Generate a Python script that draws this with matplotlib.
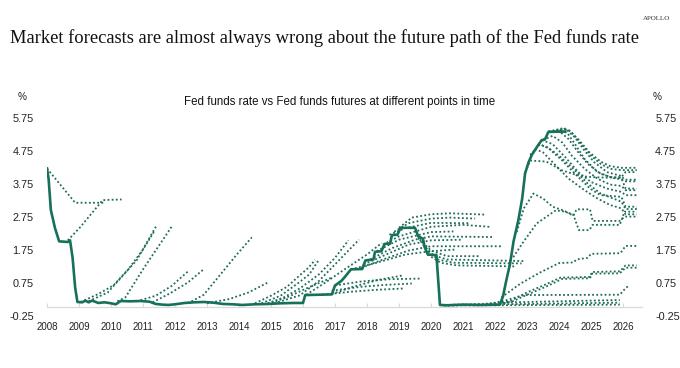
import matplotlib
matplotlib.use("Agg")
import matplotlib.pyplot as plt

# ---------------- data ----------------
# Effective Fed funds rate (%)
ffr_year = [2008.0, 2008.05, 2008.12, 2008.25, 2008.38, 2008.65, 2008.72, 2008.8, 2008.88, 2008.95,
            2009.1, 2009.2, 2009.3, 2009.4, 2009.5, 2009.6, 2009.8, 2010.0, 2010.15, 2010.3,
            2010.6, 2010.9, 2011.2, 2011.4, 2011.6, 2011.8, 2012.0, 2012.3, 2012.6, 2012.9,
            2013.2, 2013.5, 2013.8, 2014.1, 2014.5, 2014.9, 2015.3, 2015.7, 2016.0, 2016.07,
            2016.9, 2017.0, 2017.2, 2017.3, 2017.5, 2017.85, 2017.95, 2018.2, 2018.25, 2018.45,
            2018.55, 2018.72, 2018.78, 2018.95, 2019.05, 2019.5, 2019.6, 2019.75, 2019.8, 2019.9,
            2020.17, 2020.28, 2020.5, 2021.0, 2021.5, 2022.15, 2022.25, 2022.35, 2022.47, 2022.58,
            2022.73, 2022.85, 2022.94, 2023.05, 2023.15, 2023.35, 2023.46, 2023.56, 2023.67, 2024.19]
ffr_value = [4.21, 3.9, 2.95, 2.4, 2.0, 1.98, 2.03, 1.5, 0.6, 0.16,
             0.15, 0.2, 0.15, 0.2, 0.17, 0.13, 0.15, 0.12, 0.09, 0.19,
             0.18, 0.19, 0.17, 0.1, 0.08, 0.07, 0.09, 0.13, 0.15, 0.16,
             0.14, 0.1, 0.09, 0.07, 0.09, 0.1, 0.12, 0.13, 0.13, 0.37,
             0.39, 0.66, 0.8, 0.91, 1.15, 1.16, 1.42, 1.45, 1.68, 1.7,
             1.92, 1.93, 2.19, 2.2, 2.41, 2.41, 2.15, 2.08, 1.83, 1.6,
             1.58, 0.07, 0.06, 0.08, 0.07, 0.08, 0.33, 0.8, 1.32, 2.0,
             2.64, 3.3, 4.06, 4.4, 4.62, 4.92, 5.07, 5.09, 5.32, 5.33]

# Fed funds futures paths at different points in time: (years, values)
futures_2008 = [
    ([2008.0, 2008.88, 2009.82], [4.21, 3.17, 3.17]),
    ([2008.65, 2009.03, 2009.74, 2010.33], [2.03, 2.42, 3.25, 3.27]),
]
futures_2009_2014 = [
    ([2009.05, 2009.6, 2010.07, 2010.8, 2011.43], [0.16, 0.4, 0.66, 1.42, 2.49]),
    ([2009.3, 2009.9, 2010.5, 2011.0, 2011.35], [0.18, 0.45, 1.1, 1.75, 2.3]),
    ([2010.2, 2010.45, 2011.0, 2011.9], [0.18, 0.3, 1.15, 2.45]),
    ([2010.8, 2011.4, 2011.9, 2012.42], [0.18, 0.35, 0.65, 1.1]),
    ([2011.3, 2011.84, 2012.4, 2012.88], [0.15, 0.42, 0.75, 1.14]),
    ([2012.4, 2012.9, 2013.4, 2013.93, 2014.4], [0.12, 0.38, 0.97, 1.6, 2.12]),
    ([2013.0, 2013.7, 2014.3, 2014.92], [0.12, 0.25, 0.45, 0.76]),
]
futures_2014_2017 = [
    ([2014.5, 2015.0, 2015.5, 2015.9, 2016.17, 2016.38], [0.12, 0.35, 0.62, 0.97, 1.2, 1.44]),
    ([2014.7, 2015.3, 2015.9, 2016.2, 2016.48], [0.12, 0.35, 0.77, 1.0, 1.42]),
    ([2014.9, 2015.4, 2015.9, 2016.5, 2017.0, 2017.42], [0.12, 0.3, 0.57, 1.0, 1.5, 2.03]),
    ([2015.1, 2015.9, 2016.5, 2017.0, 2017.75], [0.12, 0.36, 0.8, 1.3, 2.05]),
    ([2016.1, 2016.7, 2017.3, 2018.0, 2018.46], [0.38, 0.75, 1.15, 1.6, 1.95]),
    ([2014.9, 2015.5, 2016.17, 2016.9], [0.1, 0.3, 0.6, 0.9]),
    ([2016.9, 2017.5, 2018.3, 2019.14], [0.4, 0.6, 0.82, 0.97]),
    ([2017.0, 2017.8, 2018.7, 2019.66], [0.66, 0.78, 0.85, 0.87]),
    ([2016.6, 2017.5, 2018.3, 2019.14], [0.38, 0.47, 0.53, 0.57]),
    ([2016.9, 2017.8, 2018.6, 2019.4], [0.5, 0.62, 0.68, 0.72]),
]
futures_2017_2020 = [
    ([2019.0, 2019.4, 2020.0, 2020.6, 2021.69], [2.41, 2.72, 2.82, 2.85, 2.81]),
    ([2018.85, 2019.3, 2020.0, 2020.6, 2021.38], [2.29, 2.55, 2.69, 2.72, 2.69]),
    ([2018.7, 2019.2, 2020.0, 2021.17], [2.2, 2.4, 2.56, 2.55]),
    ([2018.5, 2019.0, 2020.0, 2021.0, 2021.84], [1.9, 2.15, 2.44, 2.5, 2.44]),
    ([2018.3, 2019.0, 2020.0, 2020.7], [1.7, 2.05, 2.28, 2.3]),
    ([2018.1, 2018.8, 2019.5, 2020.0, 2021.95], [1.45, 1.8, 2.05, 2.15, 2.13]),
    ([2017.9, 2018.6, 2019.3, 2020.0, 2021.0], [1.3, 1.6, 1.9, 2.03, 2.05]),
    ([2017.7, 2018.5, 2019.3, 2020.0, 2022.2], [1.15, 1.45, 1.72, 1.85, 1.85]),
    ([2017.5, 2018.3, 2019.2, 2020.0, 2020.75], [1.15, 1.35, 1.6, 1.7, 1.75]),
    ([2019.6, 2020.0, 2020.5, 2022.94], [2.1, 1.6, 1.45, 1.4]),
    ([2019.75, 2020.2, 2020.7, 2022.83], [1.9, 1.45, 1.35, 1.33]),
    ([2019.9, 2020.3, 2020.8, 2022.6], [1.6, 1.35, 1.27, 1.24]),
    ([2019.65, 2020.0, 2020.5, 2021.5], [2.05, 1.72, 1.55, 1.55]),
]
futures_2020_2026_low = [
    ([2020.4, 2022.0, 2025.9], [0.05, 0.06, 0.08]),
    ([2020.7, 2023.0, 2025.9], [0.08, 0.1, 0.14]),
    ([2021.2, 2022.5, 2025.9], [0.08, 0.15, 0.22]),
    ([2021.7, 2022.3, 2022.9, 2025.9, 2026.1, 2026.2], [0.08, 0.2, 0.37, 0.38, 0.6, 0.65]),
    ([2022.1, 2022.5, 2023.0, 2023.6, 2024.05, 2024.97, 2025.03, 2025.9, 2026.08, 2026.43],
     [0.1, 0.2, 0.45, 0.7, 0.9, 0.92, 1.07, 1.09, 1.27, 1.27]),
    ([2022.15, 2022.55, 2023.05, 2023.65, 2024.1, 2024.97, 2025.03, 2025.9, 2026.08, 2026.43],
     [0.1, 0.18, 0.4, 0.65, 0.86, 0.88, 1.02, 1.03, 1.2, 1.2]),
    ([2022.2, 2022.8, 2023.4, 2024.0, 2024.45, 2024.55, 2024.9, 2025.0, 2025.92, 2026.08, 2026.43],
     [0.3, 0.72, 1.05, 1.34, 1.36, 1.45, 1.5, 1.62, 1.64, 1.86, 1.86]),
]
futures_2022_2026_mid = [
    ([2022.68, 2022.9, 2023.2, 2023.5, 2023.8, 2024.1, 2024.45, 2024.62, 2024.95, 2025.05, 2025.9, 2026.05, 2026.43],
     [2.28, 3.0, 3.45, 3.3, 3.05, 2.95, 2.8, 2.34, 2.34, 2.5, 2.5, 2.9, 2.9]),
    ([2022.57, 2022.9, 2023.3, 2023.9, 2024.2, 2024.45, 2024.55, 2024.97, 2025.05, 2025.9, 2026.05, 2026.43],
     [1.52, 2.0, 2.54, 2.94, 2.9, 2.78, 2.97, 2.97, 2.62, 2.62, 2.75, 2.75]),
]
futures_2023_2026_high = [
    ([2023.67, 2024.0, 2024.3, 2024.6, 2024.95, 2025.3, 2025.6, 2025.95, 2026.43], [5.33, 5.4, 5.38, 5.1, 4.7, 4.42, 4.28, 4.23, 4.23]),
    ([2023.8, 2024.1, 2024.35, 2024.65, 2025.0, 2025.3, 2025.6, 2025.95, 2026.43], [5.33, 5.43, 5.35, 5.0, 4.6, 4.35, 4.2, 4.16, 4.16]),
    ([2023.9, 2024.2, 2024.5, 2024.8, 2025.1, 2025.5, 2025.95, 2026.05, 2026.43], [5.33, 5.42, 5.15, 4.75, 4.4, 4.1, 3.98, 3.87, 3.87]),
    ([2023.7, 2024.0, 2024.3, 2024.6, 2024.9, 2025.3, 2025.7, 2025.95, 2026.08, 2026.43], [5.33, 5.35, 5.1, 4.7, 4.35, 4.05, 3.92, 3.88, 3.82, 3.82]),
    ([2024.05, 2024.25, 2024.5, 2024.8, 2025.2, 2025.6, 2025.95, 2026.08, 2026.43], [5.33, 5.3, 4.95, 4.5, 4.1, 3.95, 3.92, 3.6, 3.6]),
    ([2023.5, 2023.8, 2024.1, 2024.4, 2024.8, 2025.2, 2025.6, 2025.95, 2026.08, 2026.43], [5.08, 5.2, 5.0, 4.6, 4.2, 3.9, 3.72, 3.68, 3.55, 3.55]),
    ([2023.1, 2023.4, 2023.7, 2024.1, 2024.5, 2024.97, 2025.3, 2025.95, 2026.08, 2026.43], [4.62, 4.95, 4.8, 4.45, 4.05, 3.6, 3.4, 3.35, 3.05, 3.05]),
    ([2022.95, 2023.1, 2023.6, 2024.1, 2024.66, 2025.0, 2025.5, 2025.95, 2026.08, 2026.43], [4.1, 4.45, 4.42, 4.15, 3.98, 3.95, 3.93, 3.95, 4.1, 4.1]),
    ([2023.35, 2023.6, 2024.0, 2024.5, 2024.9, 2025.3, 2025.95, 2026.08, 2026.43], [4.92, 4.88, 4.6, 4.15, 3.75, 3.45, 3.2, 2.98, 2.98]),
    ([2023.25, 2023.5, 2023.9, 2024.3, 2024.8, 2025.2, 2025.6, 2025.95, 2026.08, 2026.43], [4.8, 4.7, 4.3, 3.9, 3.55, 3.3, 3.1, 3.0, 2.82, 2.82]),
    ([2023.46, 2023.8, 2024.2, 2024.6, 2025.0, 2025.5, 2025.95, 2026.08, 2026.43], [5.07, 4.95, 4.55, 4.1, 3.8, 3.6, 3.5, 3.4, 3.4]),
]

year_ticks = list(range(2008, 2027))
value_ticks = [-0.25, 0.75, 1.75, 2.75, 3.75, 4.75, 5.75]

title = "Market forecasts are almost always wrong about the future path of the Fed funds rate"
subtitle = "Fed funds rate vs Fed funds futures at different points in time"

# ---------------- drawing ----------------
W, H = 680, 368
fig = plt.figure(figsize=(W / 100, H / 100), dpi=100)
fig.patch.set_facecolor("white")

px_year = 32.0
x_left, x_right = 47, 642
y_top, y_bot = 117.7, 315.5
ax = fig.add_axes([x_left / W, 1 - y_bot / H, (x_right - x_left) / W, (y_bot - y_top) / H])
ax.set_xlim(2008, 2008 + (x_right - x_left) / px_year)
ax.set_ylim(-0.25, 5.75)

line_col = "#16705a"
dot_col = "#1d6b59"

groups = [futures_2008, futures_2009_2014, futures_2014_2017, futures_2017_2020,
          futures_2020_2026_low, futures_2022_2026_mid, futures_2023_2026_high]
for grp in groups:
    for xs, ys in grp:
        ax.plot(xs, ys, color=dot_col, lw=1.3, linestyle=(0, (1, 1.3)),
                solid_capstyle="butt", dash_capstyle="butt", zorder=2)

ax.plot(ffr_year, ffr_value, color=line_col, lw=1.9, zorder=3, solid_joinstyle="round")

for s in ["top", "left", "right"]:
    ax.spines[s].set_visible(False)
ax.spines["bottom"].set_position(("data", 0))
ax.spines["bottom"].set_color("#d9d9d9")
ax.spines["bottom"].set_linewidth(0.9)

ax.set_xticks(year_ticks)
ax.set_xticklabels([str(y) for y in year_ticks], fontsize=7, family="Liberation Sans", color="#222222")
ax.tick_params(axis="x", direction="in", length=3, color="#d9d9d9", pad=10.5)

ax.set_yticks(value_ticks)
ax.set_yticklabels([f"{v:.2f}" for v in value_ticks], fontsize=7.8, family="Liberation Sans", color="#222222")
ax.tick_params(axis="y", left=False, right=False, labelleft=True, labelright=True, pad=6)

fig.text(22 / W, 1 - 97 / H, "%", fontsize=7.2, family="Liberation Sans", ha="center", va="center", color="#222222")
fig.text(657 / W, 1 - 97 / H, "%", fontsize=7.2, family="Liberation Sans", ha="center", va="center", color="#222222")

fig.text(340 / W, 1 - 102 / H, subtitle, fontsize=8.3, family="Liberation Sans", ha="center", va="center", color="#111111")

t = fig.text(10 / W, 1 - 38 / H, title, fontsize=13, family="Liberation Serif", ha="left", va="center", color="#111111")
fig.canvas.draw()
w = t.get_window_extent().width
t.set_fontsize(13 * 628 / w)

fig.text(670 / W, 1 - 18 / H, "APOLLO", fontsize=5, family="Liberation Serif", ha="right", va="center", color="#333333")

fig.savefig("out.png", dpi=100, facecolor="white")
